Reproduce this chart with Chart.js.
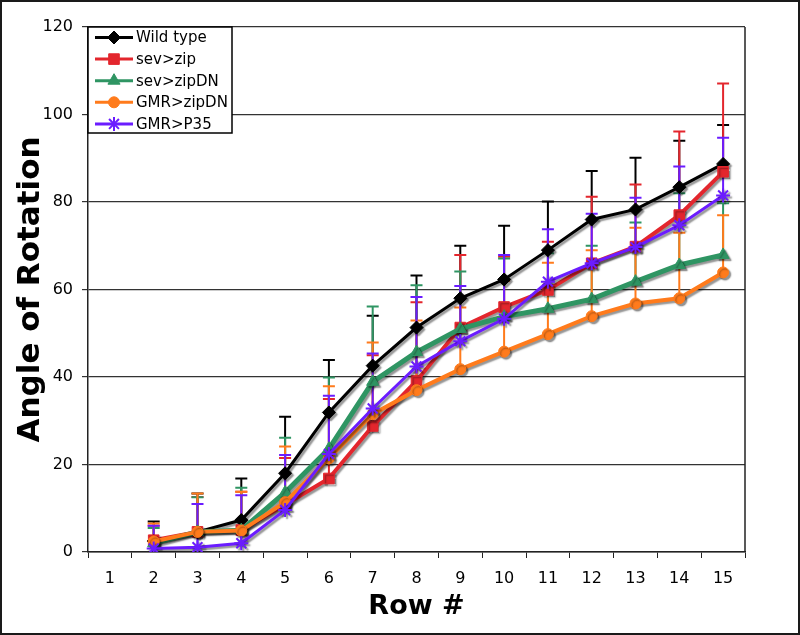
<!DOCTYPE html>
<html>
<head>
<meta charset="utf-8">
<script src="https://cdn.jsdelivr.net/npm/chart.js@4.4.1/dist/chart.umd.min.js"></script>
<style>
  html, body { margin: 0; padding: 0; background: #fff; }
  #wrap { width: 800px; height: 635px; }
</style>
</head>
<body>
<div id="wrap"><canvas id="chart" width="800" height="635"></canvas></div>
<script>
// rows along the eye disc, row 1 has no measurement
const rowLabels = ['1','2','3','4','5','6','7','8','9','10','11','12','13','14','15'];
const yTicks = [0, 20, 40, 60, 80, 100, 120];

// mean angle per row
const wildType  = [null, 2.5, 4.6, 7.3, 18.0, 31.9, 42.6, 51.3, 58.0, 62.3, 69.0, 76.0, 78.3, 83.4, 88.7];
const sevZip    = [null, 2.7, 4.6, 5.0, 10.8, 16.8, 28.8, 39.1, 51.3, 56.0, 59.9, 66.0, 69.8, 77.0, 86.9];
const sevZipDN  = [null, 2.0, 4.6, 5.0, 13.6, 23.6, 38.9, 45.7, 51.0, 53.8, 55.6, 57.8, 61.8, 65.6, 67.9];
const gmrZipDN  = [null, 2.4, 4.6, 4.9, 11.4, 21.4, 31.5, 37.0, 41.8, 45.8, 49.8, 53.9, 56.8, 58.0, 63.9];
const gmrP35    = [null, 0.8, 1.1, 2.0, 9.6, 22.4, 32.8, 42.4, 48.2, 53.3, 61.8, 66.0, 69.7, 74.7, 81.5];

// upper error bars (only the + side is drawn)
const wildTypeErr = [null, 4.5, 8.8, 9.5, 12.9, 12.0, 11.4, 11.9, 12.0, 12.3, 11.1, 11.1, 11.8, 10.6, 8.9];
const sevZipErr   = [null, 3.3, 8.0, 8.8, 10.7, 18.2, 16.2, 18.0, 16.6, 11.5, 11.0, 15.2, 14.2, 19.1, 20.2];
const sevZipDNErr = [null, 3.5, 7.9, 9.7, 12.5, 16.3, 17.2, 15.3, 13.1, 13.3, 12.7, 12.2, 13.5, 16.4, 11.8];
const gmrZipDNErr = [null, 4.1, 8.8, 8.9, 12.7, 16.5, 16.4, 15.9, 14.1, 16.2, 16.3, 15.1, 17.3, 15.0, 13.1];
const gmrP35Err   = [null, 5.2, 9.9, 11.0, 12.6, 13.3, 12.6, 15.9, 12.6, 14.6, 12.0, 11.3, 11.3, 13.4, 13.2];

const FONT = "'DejaVu Sans', Verdana, sans-serif";

// drop shadow under each series, like the original
const shadowPlugin = {
    id: 'shadow',
    beforeDatasetDraw(chart) {
        const ctx = chart.ctx;
        ctx.save();
        ctx.shadowColor = 'rgba(0,0,0,0.42)';
        ctx.shadowOffsetX = 2;
        ctx.shadowOffsetY = 2;
        ctx.shadowBlur = 1.5;
    },
    afterDatasetDraw(chart) {
        chart.ctx.restore();
    }
};

const errorBarPlugin = {
    id: 'errorBars',
    beforeDatasetsDraw(chart) {
        const ctx = chart.ctx;
        const xs = chart.scales.x, ys = chart.scales.y;
        const area = chart.chartArea;
        // right side of the plot box
        ctx.save();
        ctx.strokeStyle = '#222';
        ctx.lineWidth = 1.5;
        ctx.beginPath();
        ctx.moveTo(area.right, area.top);
        ctx.lineTo(area.right, area.bottom);
        ctx.stroke();
        ctx.restore();

        chart.data.datasets.forEach(function (ds) {
            ctx.save();
            ctx.strokeStyle = ds.borderColor;
            ctx.lineWidth = 2;
            ds.data.forEach(function (v, i) {
                const e = ds.errUp[i];
                if (v == null || e == null) return;
                const x = xs.getPixelForValue(i);
                const y0 = ys.getPixelForValue(v);
                const y1 = ys.getPixelForValue(v + e);
                ctx.beginPath();
                ctx.moveTo(x, y0);
                ctx.lineTo(x, y1);
                ctx.moveTo(x - 6, y1);
                ctx.lineTo(x + 6, y1);
                ctx.stroke();
            });
            ctx.restore();
        });
    }
};

const boxLegendPlugin = {
    id: 'boxLegend',
    afterDatasetsDraw(chart) {
        const ctx = chart.ctx;
        const L = chart.chartArea.left, T = chart.chartArea.top;
        ctx.save();
        ctx.fillStyle = '#fff';
        ctx.fillRect(L, T, 144, 106);
        ctx.strokeStyle = '#000';
        ctx.lineWidth = 1.5;
        ctx.strokeRect(L, T, 144, 106);
        ctx.font = '15px ' + FONT;
        ctx.textBaseline = 'middle';
        ctx.textAlign = 'left';
        chart.data.datasets.forEach(function (ds, i) {
            const y = T + 10.5 + i * 21.6;
            ctx.strokeStyle = ds.borderColor;
            ctx.lineWidth = 3;
            ctx.beginPath();
            ctx.moveTo(L + 7, y);
            ctx.lineTo(L + 45, y);
            ctx.stroke();
            ctx.fillStyle = ds.borderColor;
            ctx.lineWidth = ds.pointBorderWidth || 1;
            Chart.helpers.drawPoint(ctx, {
                pointStyle: ds.pointStyle,
                radius: ds.pointRadius,
                rotation: 0,
                borderWidth: ds.pointBorderWidth || 1
            }, L + 26, y);
            ctx.fillStyle = '#000';
            ctx.fillText(ds.label, L + 48, y + 1);
        });
        ctx.restore();
    },
    afterDraw(chart) {
        // outer frame of the picture
        const ctx = chart.ctx;
        ctx.save();
        ctx.strokeStyle = '#1a1a1a';
        ctx.lineWidth = 2;
        ctx.strokeRect(1, 1, chart.width - 2, chart.height - 2);
        ctx.restore();
    }
};

function series(label, data, err, color, style, radius, width, order, pbw) {
    return {
        label: label,
        data: data,
        errUp: err,
        borderColor: color,
        backgroundColor: color,
        pointBackgroundColor: color,
        pointBorderColor: color,
        borderWidth: width,
        pointStyle: style,
        pointRadius: radius,
        pointHoverRadius: radius,
        pointBorderWidth: pbw || 1,
        tension: 0,
        order: order
    };
}

const ctx = document.getElementById('chart').getContext('2d');
const chart = new Chart(ctx, {
    type: 'line',
    data: {
        labels: rowLabels,
        datasets: [
            series('Wild type', wildType, wildTypeErr, '#000000', 'rectRot', 6.5, 3, 5),
            series('sev>zip', sevZip, sevZipErr, '#e3262d', 'rect', 7.5, 4, 4),
            series('sev>zipDN', sevZipDN, sevZipDNErr, '#2f9563', 'triangle', 7, 5, 3),
            series('GMR>zipDN', gmrZipDN, gmrZipDNErr, '#ff7b1c', 'circle', 5.5, 4, 2),
            series('GMR>P35', gmrP35, gmrP35Err, '#6b1cff', 'star', 7, 3, 1, 2)
        ]
    },
    options: {
        responsive: false,
        animation: false,
        devicePixelRatio: 1,
        layout: { padding: { top: 27, right: 55, bottom: 0, left: 0 } },
        plugins: {
            legend: { display: false },
            tooltip: { enabled: false }
        },
        scales: {
            x: {
                type: 'category',
                offset: true,
                grid: { offset: true, drawOnChartArea: false, drawTicks: true, tickLength: 6, color: '#222', lineWidth: 1 },
                border: { display: true, color: '#222', width: 1.5 },
                ticks: { color: '#000', padding: 11, font: { family: FONT, size: 16 }, maxRotation: 0, autoSkip: false },
                title: { display: true, text: 'Row #', color: '#000', font: { family: FONT, size: 27, weight: 'bold' }, padding: { top: 4, bottom: 12 } },
                afterFit: function (s) { s.height = 83; }
            },
            y: {
                min: 0,
                max: 120,
                afterBuildTicks: function (s) { s.ticks = yTicks.map(function (v) { return { value: v }; }); },
                grid: { color: '#333', lineWidth: 1.2, tickLength: 6, drawTicks: true },
                border: { display: true, color: '#222', width: 1.5 },
                ticks: { color: '#000', padding: 9, font: { family: FONT, size: 16 } },
                title: { display: true, text: 'Angle of Rotation', color: '#000', font: { family: FONT, size: 31, weight: 'bold' }, padding: { top: 12, bottom: 0 } },
                afterFit: function (s) { s.width = 88; }
            }
        }
    },
    plugins: [shadowPlugin, errorBarPlugin, boxLegendPlugin]
});
</script>
</body>
</html>
